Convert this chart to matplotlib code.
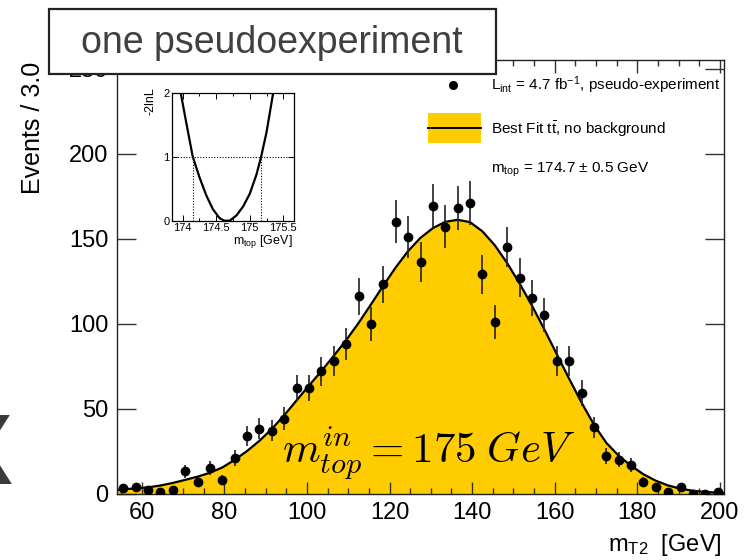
import numpy as np
import matplotlib
matplotlib.use("Agg")
import matplotlib.pyplot as plt
from matplotlib.patches import Rectangle
from matplotlib.ticker import MultipleLocator

plt.rcParams['font.family'] = ['Liberation Sans', 'DejaVu Sans']
plt.rcParams['mathtext.fontset'] = 'custom'
plt.rcParams['mathtext.rm'] = 'Liberation Sans'
plt.rcParams['mathtext.it'] = 'Liberation Sans:italic'
plt.rcParams['mathtext.bf'] = 'Liberation Sans:bold'

# ---------------- data ----------------
bin_centers = [55.5, 58.5, 61.5, 64.5, 67.5, 70.5, 73.5, 76.5, 79.5, 82.5,
               85.5, 88.5, 91.5, 94.5, 97.5, 100.5, 103.5, 106.5, 109.5, 112.5,
               115.5, 118.5, 121.5, 124.5, 127.5, 130.5, 133.5, 136.5, 139.5, 142.5,
               145.5, 148.5, 151.5, 154.5, 157.5, 160.5, 163.5, 166.5, 169.5, 172.5,
               175.5, 178.5, 181.5, 184.5, 187.5, 190.5, 193.5, 196.5, 199.5]
counts = [3, 4, 2, 1, 2, 13, 7, 15, 8, 21,
          34, 38, 37, 44, 62, 62, 72, 78, 88, 116,
          100, 123, 160, 151, 136, 169, 157, 168, 171, 129,
          101, 145, 127, 115, 105, 78, 78, 59, 39, 22,
          20, 17, 7, 4, 1, 4, 0, 0, 1]

fit_x = [54.0, 55.5, 58.5, 61.5, 64.5, 67.5, 70.5, 73.5, 76.5, 79.5,
         82.5, 85.5, 88.5, 91.5, 94.5, 97.5, 100.5, 103.5, 106.5, 109.5,
         112.5, 115.5, 118.5, 121.5, 124.5, 127.5, 130.5, 133.5, 136.5, 139.5,
         142.5, 145.5, 148.5, 151.5, 154.5, 157.5, 160.5, 163.5, 166.5, 169.5,
         172.5, 175.5, 178.5, 181.5, 184.5, 187.5, 190.5, 193.5, 196.5, 199.5, 201.0]
fit_y = [2.0, 2.5, 3.0, 3.6, 4.7, 6.2, 8.0, 9.9, 12.2, 15.3,
         19.8, 25.0, 31.0, 38.0, 46.0, 54.8, 63.5, 72.0, 81.0, 90.2,
         100.3, 111.2, 122.3, 133.0, 142.6, 150.4, 156.1, 159.8, 161.0, 159.6,
         154.2, 146.0, 135.5, 123.5, 110.5, 96.5, 82.0, 67.5, 53.5, 40.5,
         29.8, 22.2, 16.3, 11.3, 7.5, 4.7, 2.8, 1.6, 0.9, 0.5, 0.35]

nll_x = [173.90, 173.97, 174.05, 174.15, 174.25, 174.35, 174.45, 174.55, 174.62,
         174.70, 174.80, 174.90, 175.00, 175.10, 175.17, 175.25, 175.35, 175.40]
nll_y = [2.35, 2.0, 1.55, 1.0, 0.68, 0.40, 0.18, 0.04, 0.0,
         0.0, 0.08, 0.22, 0.42, 0.72, 1.0, 1.38, 2.0, 2.35]
nll_cross = [174.15, 175.17]

legend_labels = [r"L$_{\mathrm{int}}$ = 4.7 fb$^{\mathrm{-1}}$, pseudo-experiment",
                 r"Best Fit t$\mathrm{\bar{t}}$, no background",
                 r"m$_{\mathrm{top}}$ = 174.7 ± 0.5 GeV"]

W, H = 749, 560
fig = plt.figure(figsize=(W / 100, H / 100), dpi=100)

def fx(x):
    return x / W

def fy(y):
    return 1 - y / H

YELLOW = '#ffcc00'

# ---------------- main axes ----------------
L, R, T, B = 117, 724, 60, 493.5
ax = fig.add_axes([fx(L), fy(B), (R - L) / W, (B - T) / H])
ax.set_xlim(54, 201)
ax.set_ylim(0, 255)

fx_arr = np.array(fit_x)
fy_arr = np.array(fit_y)
ax.fill_between(fx_arr, 0, fy_arr, color=YELLOW, lw=0, zorder=1)
ax.plot(fx_arr, fy_arr, color='black', lw=1.6, zorder=2)

c = np.array(counts, dtype=float)
ax.errorbar(bin_centers, c, yerr=np.sqrt(c), fmt='o', color='black',
            ecolor='#222222', ms=6, elinewidth=1.2, capsize=0, zorder=3)

ax.xaxis.set_major_locator(MultipleLocator(20))
ax.xaxis.set_minor_locator(MultipleLocator(5))
ax.yaxis.set_major_locator(MultipleLocator(50))
ax.tick_params(axis='both', which='both', direction='in', top=True, right=True,
               labelsize=17, width=1.0, color='#333333')
ax.tick_params(axis='x', which='major', length=9, pad=6)
ax.tick_params(axis='x', which='minor', length=4.5)
ax.tick_params(axis='y', which='major', length=13.5, pad=6)
for s in ax.spines.values():
    s.set_linewidth(1.0)
    s.set_color('#222222')

ax.text(0.513, 0.091, r"$m_{top}^{in} = 175\;GeV$", transform=ax.transAxes,
        ha='center', va='center', fontsize=31, math_fontfamily='cm', zorder=4)

# axis titles
fig.text(fx(33), fy(62), "Events / 3.0", rotation=90, ha='center', va='top',
         fontsize=18)
fig.text(fx(722), fy(545), r"m$_{\mathrm{T2}}$  [GeV]", ha='right', va='center',
         fontsize=17)

# legend
fig.add_artist(plt.Line2D([fx(453)], [fy(85)], marker='o', color='black', ms=5.5,
                          transform=fig.transFigure))
fig.add_artist(Rectangle((fx(428), fy(143)), (481 - 428) / W, 30 / H,
                         transform=fig.transFigure, facecolor=YELLOW, edgecolor='none'))
fig.add_artist(plt.Line2D([fx(428), fx(481)], [fy(128), fy(128)], color='black', lw=1.4,
                          transform=fig.transFigure))
for lab, yy in zip(legend_labels, [85, 129, 170]):
    fig.text(fx(491), fy(yy), lab, ha='left', va='center', fontsize=11)

# ---------------- inset ----------------
iL, iR, iT, iB = 172.3, 294, 92.7, 220.7
ins = fig.add_axes([fx(iL), fy(iB), (iR - iL) / W, (iB - iT) / H])
ins.set_facecolor('white')
ins.set_xlim(173.845, 175.66)
ins.set_ylim(0, 2)
ins.plot(nll_x, nll_y, color='black', lw=1.6, zorder=3)
ins.axhline(1.0, color='black', lw=0.8, ls=(0, (1, 1.5)), zorder=2)
for xc in nll_cross:
    ins.plot([xc, xc], [0, 1], color='black', lw=0.8, ls=(0, (1, 1.5)), zorder=2)
ins.set_xticks([174, 174.5, 175, 175.5])
ins.set_xticklabels(['174', '174.5', '175', '175.5'])
ins.xaxis.set_minor_locator(MultipleLocator(0.25))
ins.set_yticks([0, 1, 2])
ins.tick_params(axis='both', which='both', direction='in', top=True, right=True,
                labelsize=8, width=0.7, pad=2)
ins.tick_params(axis='both', which='major', length=4)
ins.tick_params(axis='both', which='minor', length=2)
for s in ins.spines.values():
    s.set_linewidth(0.9)
fig.text(fx(150), fy(87), "-2lnL", rotation=90, ha='center', va='top', fontsize=9)
fig.text(fx(293), fy(242), r"m$_{\mathrm{top}}$ [GeV]", ha='right', va='center',
         fontsize=9)

# ---------------- title box ----------------
fig.add_artist(Rectangle((fx(49), fy(74)), (496 - 49) / W, (74 - 9) / H,
                         transform=fig.transFigure, facecolor='white',
                         edgecolor='#222222', lw=1.6, zorder=10))
fig.text(fx(272), fy(43), "one pseudoexperiment", ha='center', va='center',
         fontsize=27, color='#404040', zorder=11)

# cropped slide letter at left edge
fig.text(fx(-22), fy(458), "X", ha='center', va='center', fontsize=72,
         color='#3a3a3a', fontweight='bold')

fig.savefig("out.png", dpi=100)
